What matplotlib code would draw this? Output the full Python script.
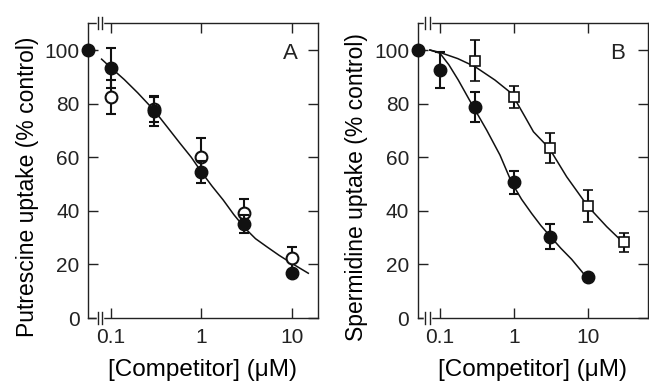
import numpy as np
import matplotlib.pyplot as plt

plt.rcParams['font.family'] = ['Liberation Sans', 'DejaVu Sans']

# Panel A: putrescine uptake
conc_a = [0.1, 0.3, 1, 3, 10]
a_filled = [93.4, 77.2, 54.6, 35.0, 16.7]
a_filled_err = [7.5, 5.4, 4.1, 3.3, 1.0]
a_open = [82.6, 78.0, 60.2, 39.0, 22.3]
a_open_err = [6.3, 5.0, 6.8, 5.4, 4.3]
control_a = 100

# fitted curve A (log10 conc, % control)
curve_a_logx = [-1.10, -1.00, -0.85, -0.70, -0.52, -0.38, -0.234, -0.11, 0.0, 0.12,
                0.244, 0.36, 0.484, 0.6, 0.724, 0.86, 1.0, 1.183]
curve_a_y = [96.6, 93.5, 89.0, 84.0, 77.5, 71.5, 65.2, 60.0, 54.6, 49.2,
             44.0, 38.6, 33.5, 29.6, 26.6, 23.4, 20.4, 16.7]

# Panel B: spermidine uptake
conc_b_filled = [0.1, 0.3, 1, 3, 10]
b_filled = [92.5, 78.8, 50.6, 30.3, 15.4]
b_filled_err = [6.6, 5.7, 4.3, 4.7, 0.8]
conc_b_open = [0.3, 1, 3, 10, 30]
b_open = [96.0, 82.6, 63.5, 41.8, 28.2]
b_open_err = [7.7, 4.1, 5.5, 5.9, 3.4]
control_b = 100

curve_b1_logx = [-1.135, -1.0, -0.88, -0.753, -0.551, -0.37, -0.191, -0.034, 0.1, 0.236,
                 0.36, 0.492, 0.63, 0.775, 0.97]
curve_b1_y = [100, 98.8, 94.5, 88.8, 78.8, 70.1, 60.8, 50.6, 44.3, 39.0,
              34.5, 30.3, 26.0, 21.9, 15.4]
curve_b2_logx = [-1.135, -1.0, -0.76, -0.528, -0.259, -0.034, 0.146, 0.26, 0.474, 0.708,
                 0.99, 1.247, 1.472]
curve_b2_y = [100, 99.1, 96.8, 93.8, 88.8, 83.8, 75.1, 69.5, 63.3, 52.7,
              41.8, 34.1, 28.1]

W, H = 649, 388
fig = plt.figure(figsize=(W / 100, H / 100), dpi=100)


def make_axes(left_px, xlim, breaks_px):
    ax = fig.add_axes([left_px / W, 1 - 318 / H, 230 / W, 295.3 / H])
    ax.set_xscale('log')
    ax.set_xlim(*xlim)
    ax.set_ylim(0, 110.2)
    ax.set_xticks([0.1, 1, 10])
    ax.set_xticklabels(['0.1', '1', '10'])
    ax.minorticks_off()
    ax.set_yticks([0, 20, 40, 60, 80, 100])
    ax.tick_params(direction='in', length=7, width=1, top=True, right=True,
                   labelsize=15, colors='#222222')
    ax.tick_params(axis='x', pad=7)
    ax.tick_params(axis='y', pad=6)
    for s in ax.spines.values():
        s.set_linewidth(1)
        s.set_color('#222222')
    # axis break marks on bottom and top spines
    x0 = (breaks_px[0] - left_px) / 230
    x1 = (breaks_px[1] - left_px) / 230
    dy = 6 / 295.3
    for yb in (0, 1):
        ax.plot([x0, x1], [yb, yb], color='white', lw=2.5, transform=ax.transAxes,
                clip_on=False, zorder=5)
        for xb in (x0, x1):
            ax.plot([xb, xb], [yb - dy, yb + dy], color='#222222', lw=1,
                    transform=ax.transAxes, clip_on=False, zorder=6)
    ax.set_xlabel('[Competitor] (\u03bcM)', fontsize=17.5, labelpad=9)
    return ax


err_kw = dict(ecolor='#111111', elinewidth=1.5, capsize=3.5, capthick=1.5, linestyle='none')

# ---- Panel A
xlim_a = (10 ** -1.25, 10 ** 1.29)
ax1 = make_axes(88, xlim_a, (98.3, 101.7))
ax1.plot(10 ** np.array(curve_a_logx), curve_a_y, color='#111111', lw=1.1, zorder=2)
ax1.errorbar(conc_a, a_open, yerr=a_open_err, marker='o', ms=8.5, mfc='white',
             mec='#111111', mew=1.5, zorder=3, **err_kw)
ax1.errorbar(conc_a, a_filled, yerr=a_filled_err, marker='o', ms=9, mfc='#111111',
             mec='#111111', zorder=4, **err_kw)
ax1.plot([xlim_a[0]], [control_a], marker='o', ms=9, color='#111111', clip_on=False, zorder=7)
ax1.text(0.878, 0.896, 'A', transform=ax1.transAxes, fontsize=16,
         ha='center', va='center', color='#222222')
ax1.set_ylabel('Putrescine uptake (% control)', fontsize=16.5)
ax1.yaxis.set_label_coords(-0.215, 0.445)

# ---- Panel B
xlim_b = (10 ** -1.30, 10 ** 1.80)
ax2 = make_axes(417.7, xlim_b, (425, 430))
ax2.plot(10 ** np.array(curve_b1_logx), curve_b1_y, color='#111111', lw=1.1, zorder=2)
ax2.plot(10 ** np.array(curve_b2_logx), curve_b2_y, color='#111111', lw=1.1, zorder=2)
ax2.errorbar(conc_b_open, b_open, yerr=b_open_err, marker='s', ms=7, mfc='white',
             mec='#111111', mew=1.2, zorder=3, **err_kw)
ax2.errorbar(conc_b_filled, b_filled, yerr=b_filled_err, marker='o', ms=9, mfc='#111111',
             mec='#111111', zorder=4, **err_kw)
ax2.plot([xlim_b[0]], [control_b], marker='o', ms=9, color='#111111', clip_on=False, zorder=7)
ax2.text(0.867, 0.896, 'B', transform=ax2.transAxes, fontsize=16,
         ha='center', va='center', color='#222222')
ax2.set_ylabel('Spermidine uptake (% control)', fontsize=16.5)
ax2.yaxis.set_label_coords(-0.215, 0.445)

fig.savefig('out.png', dpi=100)
